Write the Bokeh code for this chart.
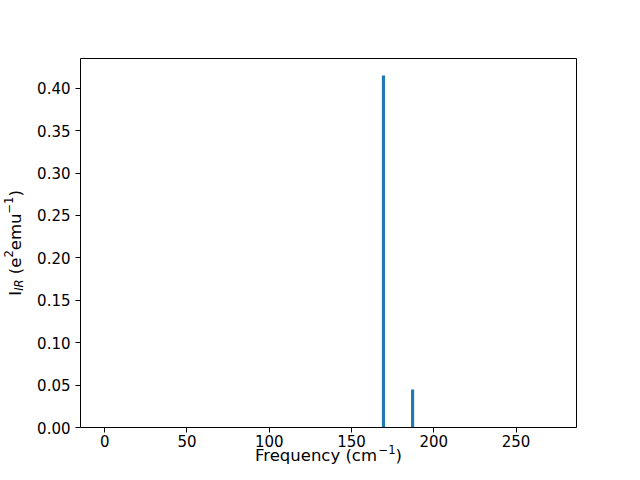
import math
from bokeh.plotting import figure
from bokeh.models import Range1d, Label, FixedTicker, PrintfTickFormatter, LinearAxis
from bokeh.embed import file_html
from bokeh.resources import INLINE

# ---- data ----
frequencies = [169.4, 187.1]          # cm^-1
intensities = [0.415, 0.045]          # e^2 emu^-1
x_ticks = [0, 50, 100, 150, 200, 250]
y_ticks = [0.00, 0.05, 0.10, 0.15, 0.20, 0.25, 0.30, 0.35, 0.40]
x_lim = (-14.7, 286.7)
y_lim = (0.0, 0.4354)

FONT = "DejaVu Sans"
TICK_PX = 15
LABEL_PX = 16.5

# ---- layout (pixels): whole canvas is the plotting frame; the visible
#      axes box is placed with fixed-location axes ----
FIG_W, FIG_H = 624, 464
BOX_L, BOX_R, BOX_T, BOX_B = 80.0, 576.0, 57.6, 427.2

sx = (BOX_R - BOX_L) / (x_lim[1] - x_lim[0])
sy = (BOX_B - BOX_T) / (y_lim[1] - y_lim[0])
x_range = Range1d(x_lim[0] - BOX_L / sx, x_lim[1] + (FIG_W - BOX_R) / sx)
y_range = Range1d(y_lim[0] - (FIG_H - BOX_B) / sy, y_lim[1] + BOX_T / sy)

p = figure(width=FIG_W, height=FIG_H, x_range=x_range, y_range=y_range,
           output_backend="svg", toolbar_location=None,
           x_axis_location=None, y_axis_location=None, min_border=0)
p.xgrid.visible = False
p.ygrid.visible = False
p.outline_line_color = None
p.background_fill_color = "white"
p.border_fill_color = "white"

p.vbar(x=frequencies, top=intensities, width=1.9,
       fill_color="#1f77b4", line_color=None)

def style_axis(ax):
    ax.axis_line_color = "black"
    ax.axis_line_width = 1
    ax.major_tick_line_color = "black"
    ax.major_tick_out = 5
    ax.major_tick_in = 0
    ax.minor_tick_line_color = None
    ax.major_label_text_font = FONT
    ax.major_label_text_font_size = f"{TICK_PX}px"
    ax.major_label_text_color = "black"

xaxis = LinearAxis(fixed_location=y_lim[0], bounds=x_lim,
                   ticker=FixedTicker(ticks=x_ticks))
style_axis(xaxis)
xaxis.major_label_standoff = 2
p.add_layout(xaxis, "below")

yaxis = LinearAxis(fixed_location=x_lim[0], bounds=y_lim,
                   ticker=FixedTicker(ticks=y_ticks),
                   formatter=PrintfTickFormatter(format="%.2f"))
style_axis(yaxis)
yaxis.major_label_standoff = 5
p.add_layout(yaxis, "left")

# top and right spines of the axes box
top_spine = LinearAxis(fixed_location=y_lim[1], bounds=x_lim,
                       ticker=FixedTicker(ticks=[]))
style_axis(top_spine)
top_spine.major_label_text_font_size = "0px"
p.add_layout(top_spine, "above")

right_spine = LinearAxis(fixed_location=x_lim[1], bounds=y_lim,
                         ticker=FixedTicker(ticks=[]))
style_axis(right_spine)
right_spine.major_label_text_font_size = "0px"
p.add_layout(right_spine, "right")

# ---- composed axis labels (sub/superscripts as real text) ----
W = {' ': 0.318, '(': 0.390, ')': 0.390, 'e': 0.615, 'm': 0.974, 'u': 0.634,
     'c': 0.550, 'n': 0.634, 'q': 0.635, 'r': 0.411, 'y': 0.592, 'F': 0.575,
     'I': 0.295, 'R': 0.695, '2': 0.636, '1': 0.636, '\u2212': 0.838}

def width(s, px):
    return sum(W.get(ch, 0.6) for ch in s) * px

SUP = 6.3
SUB = 4.3

def compose(parts, horizontal, center, base):
    total = sum(width(t, LABEL_PX * s) for t, _, s, _ in parts)
    pos = center - total / 2
    for txt, style, scale, shift in parts:
        px = LABEL_PX * scale
        lead = len(txt) - len(txt.lstrip(' '))
        pos += width(' ' * lead, px)
        body = txt.lstrip(' ')
        if horizontal:
            lab = Label(x=pos, y=base + shift, x_units="screen", y_units="screen",
                        text=body, angle=0)
        else:
            lab = Label(x=base - shift, y=pos, x_units="screen", y_units="screen",
                        text=body, angle=math.pi / 2)
        lab.text_font = FONT
        lab.text_font_size = f"{px:.2f}px"
        lab.text_font_style = style
        lab.text_color = "black"
        lab.text_align = "left"
        lab.text_baseline = "alphabetic"
        p.add_layout(lab)
        pos += width(body, px)

# y label: I_IR (e^2 emu^-1), rotated, centred on the axes box
y_parts = [("I", "normal", 1.0, 0.0),
           ("IR", "italic", 0.7, -SUB),
           (" (e", "normal", 1.0, 0.0),
           ("2", "normal", 0.7, SUP),
           ("emu", "normal", 1.0, 0.0),
           ("\u22121", "normal", 0.7, SUP),
           (")", "normal", 1.0, 0.0)]
compose(y_parts, False, FIG_H - (BOX_T + BOX_B) / 2, 14.5)

# x label: Frequency (cm^-1)
x_parts = [("Frequency (cm", "normal", 1.0, 0.0),
           ("\u22121", "normal", 0.7, SUP),
           (")", "normal", 1.0, 0.0)]
compose(x_parts, True, (BOX_L + BOX_R) / 2, 9.0)

open("out.html", "w").write(file_html(p, INLINE))
